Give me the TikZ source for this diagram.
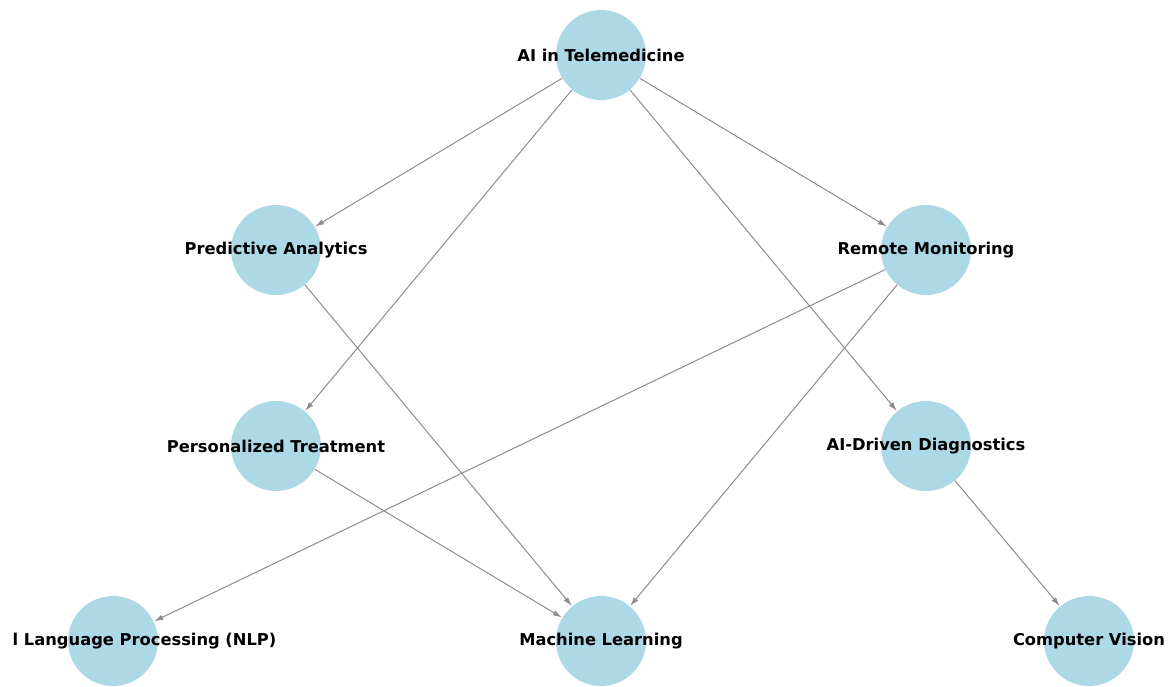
\documentclass[tikz,border=0pt]{standalone}
\usepackage{fontspec}
\setmainfont{DejaVu Sans}
\usetikzlibrary{arrows.meta}
\definecolor{nodeblue}{HTML}{ADD8E6}
\definecolor{edgegray}{HTML}{8C8C8C}
\tikzset{
  topic/.style={circle, fill=nodeblue, minimum size=90pt, inner sep=0pt},
  lbl/.style={font=\fontsize{16.3}{19}\selectfont\bfseries, text=black, inner sep=0pt},
  link/.style={draw=edgegray, line width=1pt, -{Latex[length=9pt,width=5.5pt]}, shorten >=0.5pt}
}
\begin{document}
\begin{tikzpicture}[x=1pt,y=-1pt]
\useasboundingbox (0,0) rectangle (1172,686);
\clip (0,0) rectangle (1172,686);
\fill[white] (0,0) rectangle (1172,686);
\node[topic] (ai) at (601,55) {};
\node[topic] (pa) at (276,250) {};
\node[topic] (rm) at (926,250) {};
\node[topic] (pt) at (276,446) {};
\node[topic] (dx) at (926,446) {};
\node[topic] (nlp) at (113,641) {};
\node[topic] (ml) at (601,641) {};
\node[topic] (cv) at (1089,641) {};
\draw[link] (ai) -- (pa);
\draw[link] (ai) -- (rm);
\draw[link] (ai) -- (pt);
\draw[link] (ai) -- (dx);
\draw[link] (pa) -- (ml);
\draw[link] (rm) -- (nlp);
\draw[link] (rm) -- (ml);
\draw[link] (pt) -- (ml);
\draw[link] (dx) -- (cv);
\node[lbl] (tai) at (ai.center) {AI in Telemedicine};
\node[lbl] (tpa) at (pa.center) {Predictive Analytics};
\node[lbl] (trm) at (rm.center) {Remote Monitoring};
\node[lbl] (tpt) at (pt.center) {Personalized Treatment};
\node[lbl] (tdx) at (dx.center) {AI-Driven Diagnostics};
\begin{scope}
\clip (12,600) rectangle (400,686);
\node[lbl] (tnlp) at (nlp.center) {Natural Language Processing (NLP)};
\end{scope}
\node[lbl] (tml) at (ml.center) {Machine Learning};
\node[lbl] (tcv) at (cv.center) {Computer Vision};
\end{tikzpicture}
\end{document}
